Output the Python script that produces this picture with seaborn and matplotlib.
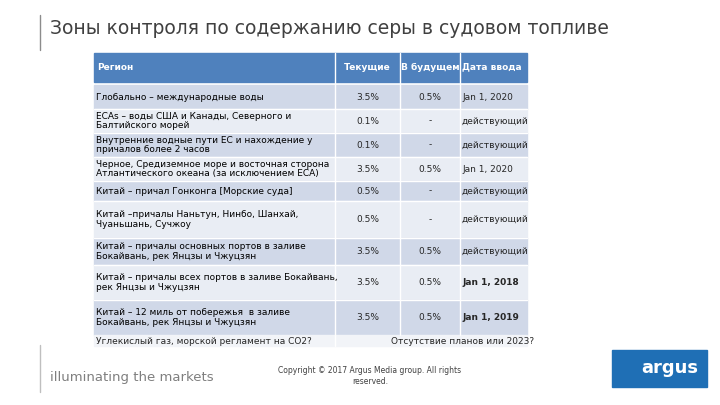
import matplotlib
matplotlib.use("Agg")
import matplotlib.pyplot as plt
import seaborn as sns
from matplotlib.patches import Rectangle

sns.set_style("white")
plt.rcParams["font.family"] = ["DejaVu Sans"]

title = "Зоны контроля по содержанию серы в судовом топливе"
headers = ["Регион", "Текущие", "В будущем", "Дата ввода"]
regions = [
    "Глобально – международные воды",
    "ECAs – воды США и Канады, Северного и\nБалтийского морей",
    "Внутренние водные пути ЕС и нахождение у\nпричалов более 2 часов",
    "Черное, Средиземное море и восточная сторона\nАтлантического океана (за исключением ECA)",
    "Китай – причал Гонконга [Морские суда]",
    "Китай –причалы Наньтун, Нинбо, Шанхай,\nЧуаньшань, Сучжоу",
    "Китай – причалы основных портов в заливе\nБокайвань, рек Янцзы и Чжуцзян",
    "Китай – причалы всех портов в заливе Бокайвань,\nрек Янцзы и Чжуцзян",
    "Китай – 12 миль от побережья  в заливе\nБокайвань, рек Янцзы и Чжуцзян",
]
current = ["3.5%", "0.1%", "0.1%", "3.5%", "0.5%", "0.5%", "3.5%", "3.5%", "3.5%"]
future = ["0.5%", "-", "-", "0.5%", "-", "-", "0.5%", "0.5%", "0.5%"]
dates = ["Jan 1, 2020", "действующий", "действующий", "Jan 1, 2020", "действующий",
         "действующий", "действующий", "Jan 1, 2018", "Jan 1, 2019"]
bold_dates = [False] * 7 + [True, True]
last_row = ["Углекислый газ, морской регламент на СО2?", "Отсутствие планов или 2023?"]

W, H = 720, 405
fig = plt.figure(figsize=(7.2, 4.05), dpi=100)
ax = fig.add_axes([0, 0, 1, 1])
ax.set_xlim(0, W)
ax.set_ylim(H, 0)
ax.axis("off")

# slide decorations
ax.plot([40, 40], [15, 50], color="#8c8c8c", lw=1)
ax.plot([40, 40], [345, 392], color="#bfbfbf", lw=1)
ax.text(50, 28, title, fontsize=13.5, color="#404040", va="center")
ax.text(50, 378, "illuminating the markets", fontsize=9.5, color="#7f7f7f", va="center")
ax.add_patch(Rectangle((612, 350), 95, 37, color="#1f6fb5"))
ax.text(698, 368, "argus", fontsize=13, color="white", ha="right", va="center", fontweight="bold")
ax.text(370, 376, "Copyright © 2017 Argus Media group. All rights\nreserved.",
        fontsize=5.5, color="#404040", ha="center", va="center")

# table
cols = [94, 335, 400, 460, 527]
ax.add_patch(Rectangle((cols[0], 53), cols[-1] - cols[0], 29, color="#4f81bd"))
for i, h in enumerate(headers):
    ax.text(cols[i] + 3 if i == 0 else (cols[i] + cols[i + 1]) / 2 if i < 3 else cols[i] + 2,
            67, h, fontsize=6.5, color="white", fontweight="bold",
            ha="left" if i in (0, 3) else "center", va="center")

bounds = [85, 109, 133, 157, 181, 201, 238, 265, 300, 335]
for r in range(len(regions)):
    y0, y1 = bounds[r], bounds[r + 1]
    ax.add_patch(Rectangle((cols[0], y0), cols[-1] - cols[0], y1 - y0,
                           color="#d0d8e8" if r % 2 == 0 else "#e9edf4"))
    yc = (y0 + y1) / 2
    ax.text(cols[0] + 2, yc, regions[r], fontsize=6.5, color="black", va="center", linespacing=1.1)
    ax.text((cols[1] + cols[2]) / 2, yc, current[r], fontsize=6.5, ha="center", va="center")
    ax.text((cols[2] + cols[3]) / 2, yc, future[r], fontsize=6.5, ha="center", va="center")
    ax.text(cols[3] + 2, yc, dates[r], fontsize=6.5, va="center",
            fontweight="bold" if bold_dates[r] else "normal")
ax.add_patch(Rectangle((cols[0], 335), cols[-1] - cols[0], 11, color="#f2f4f8"))
ax.text(cols[0] + 2, 341, last_row[0], fontsize=6.5, va="center")
ax.text(463, 341, last_row[1], fontsize=6.5, va="center", ha="center")

# white grid lines
for x in cols[1:-1]:
    ax.plot([x, x], [53, 335], color="white", lw=1)
ax.plot([cols[1], cols[1]], [335, 346], color="white", lw=1)
for y in bounds[1:-1]:
    ax.plot([cols[0], cols[-1]], [y, y], color="white", lw=1)

fig.savefig("out.png", dpi=100)
